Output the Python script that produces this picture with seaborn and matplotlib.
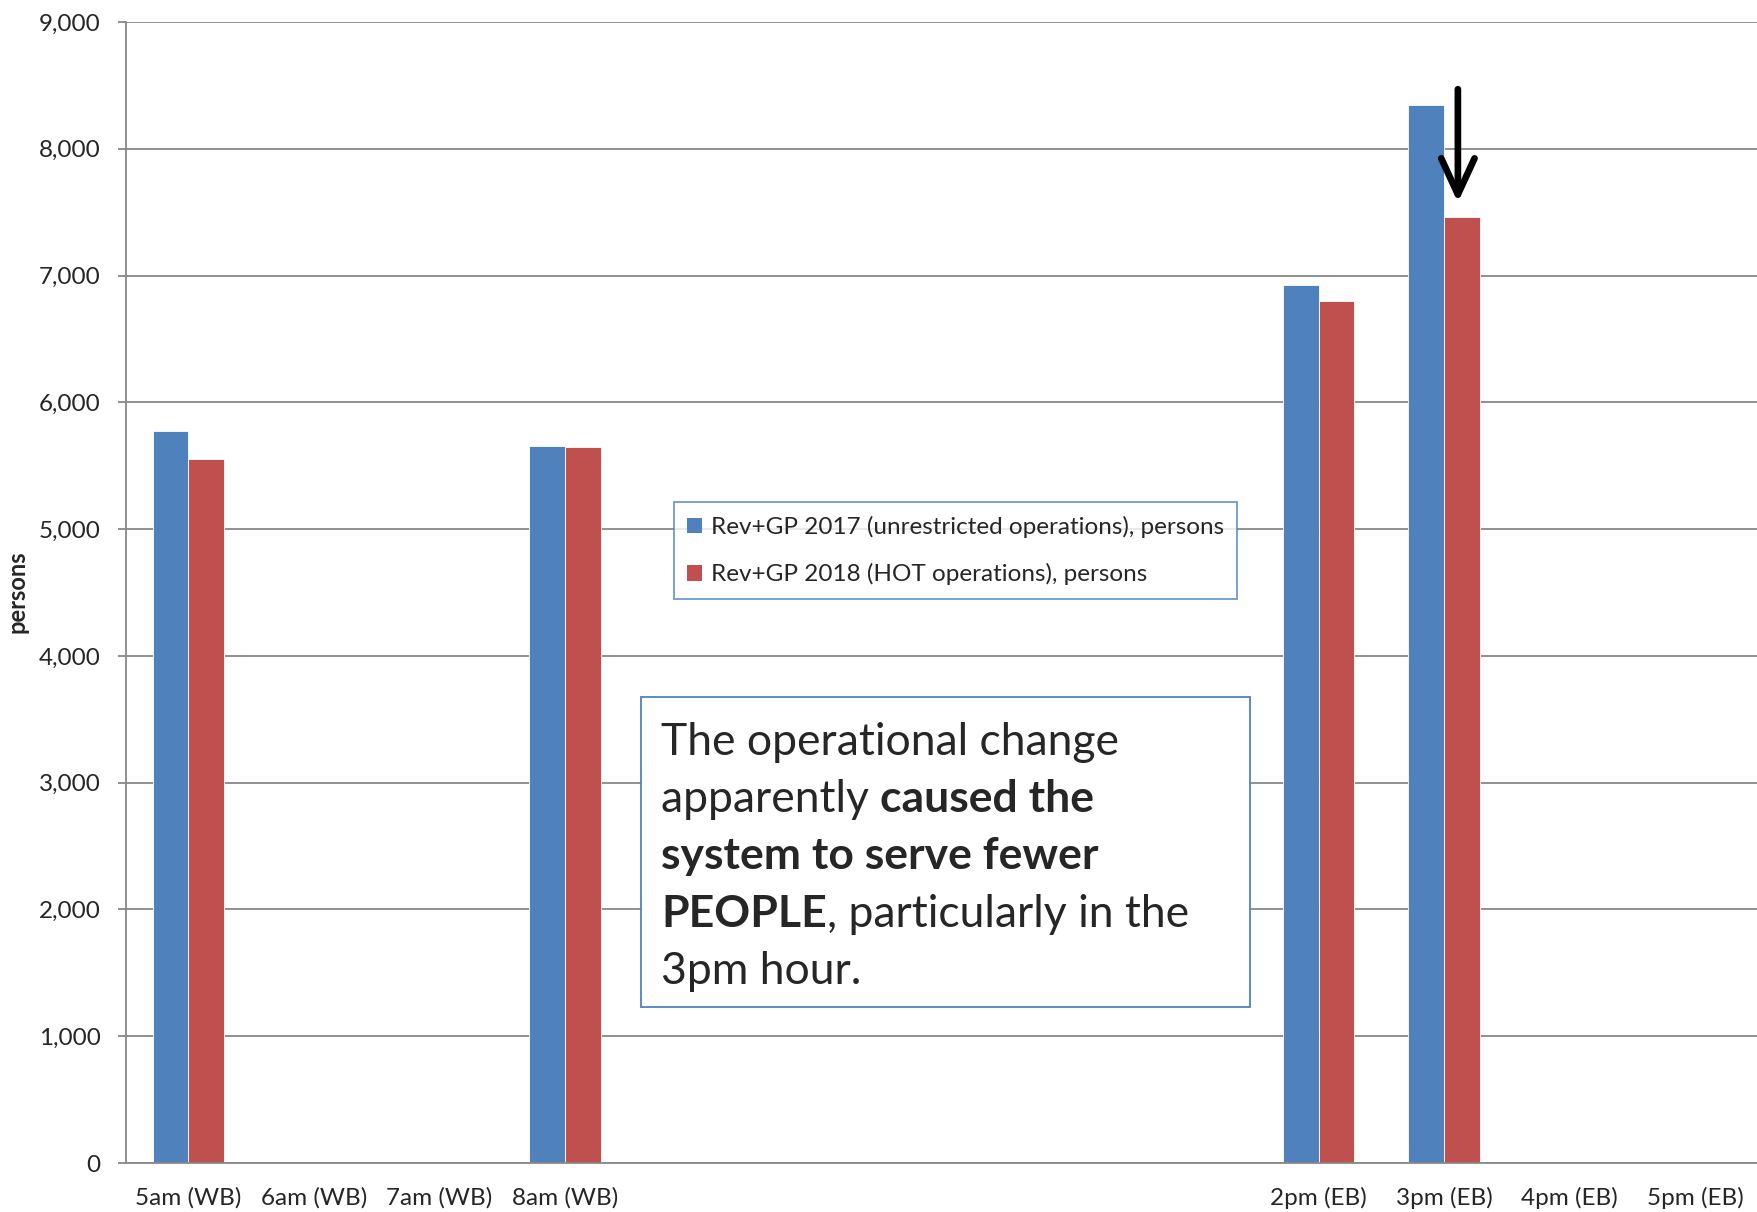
import matplotlib
matplotlib.use("Agg")
import matplotlib.pyplot as plt
import seaborn as sns
import pandas as pd
from matplotlib.patches import Patch, Rectangle

# ---- data ----
slots = ["5am (WB)", "6am (WB)", "7am (WB)", "8am (WB)", "gap1", "gap2", "gap3",
         "gap4", "gap5", "2pm (EB)", "3pm (EB)", "4pm (EB)", "5pm (EB)"]
tick_labels = ["5am (WB)", "6am (WB)", "7am (WB)", "8am (WB)", "", "", "",
               "", "", "2pm (EB)", "3pm (EB)", "4pm (EB)", "5pm (EB)"]
hours = ["5am (WB)", "8am (WB)", "2pm (EB)", "3pm (EB)"]
persons_2017 = [5773, 5659, 6923, 8347]
persons_2018 = [5553, 5650, 6799, 7462]
series = ["Rev+GP 2017 (unrestricted operations), persons",
          "Rev+GP 2018 (HOT operations), persons"]
colors = ["#4F81BD", "#C0504D"]

df = pd.DataFrame({
    "hour": hours * 2,
    "persons": persons_2017 + persons_2018,
    "series": [series[0]] * len(hours) + [series[1]] * len(hours),
})

sns.set_style("white")
plt.rcParams["font.family"] = ["Lato", "DejaVu Sans"]

W, H = 1758, 1212
fig = plt.figure(figsize=(W / 100, H / 100), dpi=100)
ax = fig.add_axes([125.6 / W, 49 / H, 1 - 125.6 / W, 1141 / H])

sns.barplot(data=df, x="hour", y="persons", hue="series", order=slots,
            hue_order=series, palette=colors, saturation=1, width=0.57, ax=ax,
            edgecolor="white", linewidth=0.6, legend=False)

grid_c = "#888888"
ax.set_xlim(-0.5, len(slots) - 0.5)
ax.set_ylim(0, 9000)
ax.set_yticks(range(0, 9001, 1000))
ax.set_yticklabels([f"{v:,}" for v in range(0, 9001, 1000)], fontsize=17.5)
ax.yaxis.grid(True, color=grid_c, lw=1.3)
ax.set_axisbelow(True)
ax.set_xticks(range(len(slots)))
ax.set_xticklabels(tick_labels, fontsize=17.5)
ax.set_xticks([i - 0.5 for i in range(len(slots) + 1)], minor=True)
ax.tick_params(axis="x", which="major", length=0, pad=17)
ax.tick_params(axis="x", which="minor", length=6, width=1.3, color=grid_c, direction="out")
ax.tick_params(axis="y", length=6, width=1.3, color=grid_c, direction="out", pad=12, left=True)
ax.set_xlabel("")
ax.set_ylabel("")
for side in ["top", "right"]:
    ax.spines[side].set_visible(False)
for side in ["left", "bottom"]:
    ax.spines[side].set_color(grid_c)
    ax.spines[side].set_linewidth(1.3)

fig.text(17 / W, 1 - 592 / H, "persons", rotation=90, fontsize=17, fontweight="bold",
         ha="center", va="center")

# legend
handles = [Patch(facecolor=c, edgecolor="none") for c in colors]
leg = ax.legend(handles, series, loc="upper left", bbox_to_anchor=(0.336, 0.579),
                borderaxespad=0, fontsize=17.5, frameon=True, fancybox=False,
                handlelength=0.6, handleheight=0.6, handletextpad=0.35,
                labelspacing=1.05, borderpad=0.55)
leg.get_frame().set_edgecolor("#4F81BD")
leg.get_frame().set_linewidth(1.3)

# annotation box
box = Rectangle((641 / W, 1 - 1007 / H), (1250 - 641) / W, (1007 - 697) / H,
                transform=fig.transFigure, facecolor="white", edgecolor="#4F81BD",
                lw=1.3, zorder=5)
fig.patches.append(box)

lines = [
    [("The operational change", "normal")],
    [("apparently ", "normal"), ("caused the", "bold")],
    [("system to serve fewer", "bold")],
    [("PEOPLE", "bold"), (", particularly in the", "normal")],
    [("3pm hour.", "normal")],
]
renderer = fig.canvas.get_renderer()
y0 = 755
for i, parts in enumerate(lines):
    x = 661
    for txt, wt in parts:
        t = fig.text(x / W, 1 - (y0 + i * 57.2) / H, txt, fontsize=32, fontweight=wt,
                     ha="left", va="baseline", zorder=6)
        x = t.get_window_extent(renderer).x1

# arrow pointing at the 3pm drop
ax.annotate("", xy=(10.11, 7577), xytext=(10.11, 8470),
            arrowprops=dict(arrowstyle="->,head_length=1.3,head_width=0.6",
                            lw=4.8, color="black", mutation_scale=20,
                            shrinkA=0, shrinkB=0, capstyle="round", joinstyle="round"))

fig.savefig("out.png", dpi=100)
